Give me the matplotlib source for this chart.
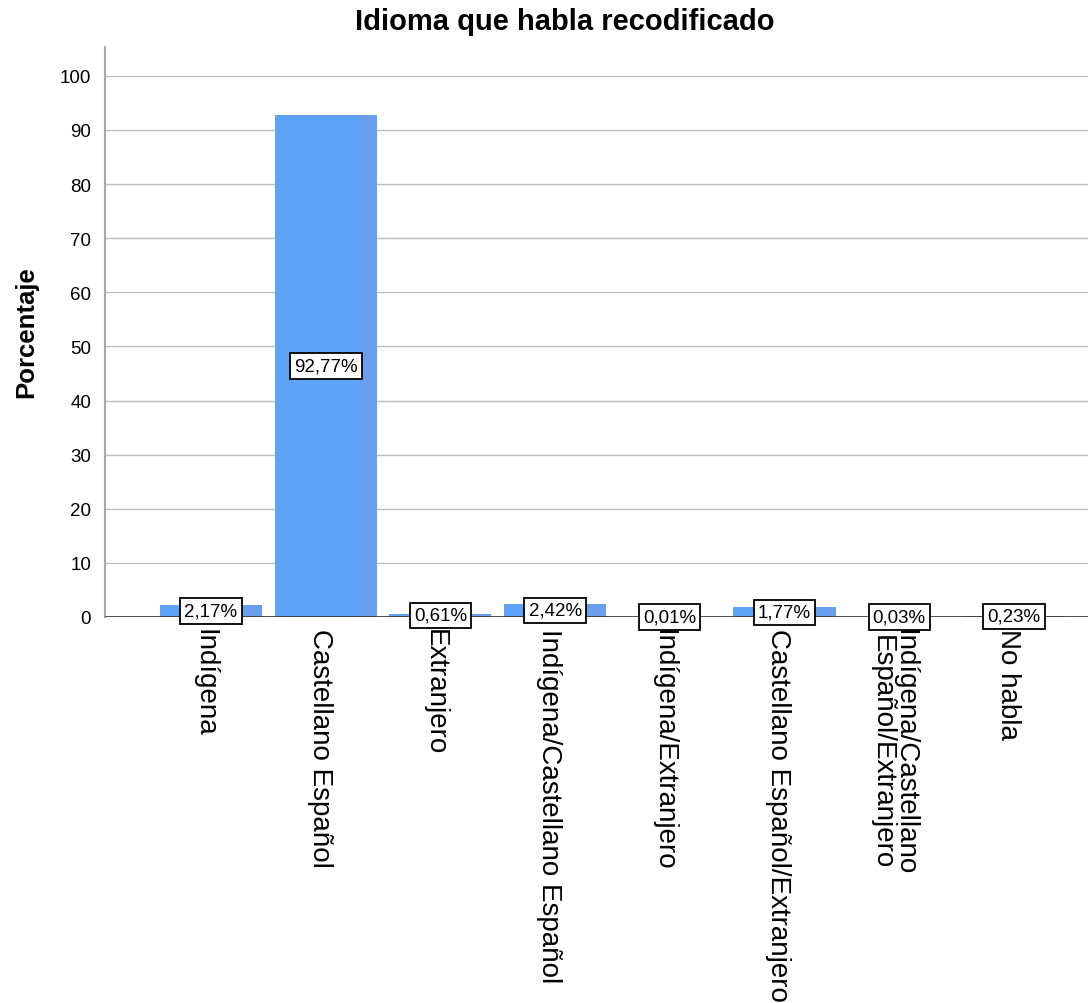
import matplotlib
matplotlib.use("Agg")
import matplotlib.pyplot as plt
import matplotlib.transforms as mtransforms
import numpy as np

plt.rcParams["font.family"] = ["Liberation Sans", "DejaVu Sans"]

CATEGORIES = ["Indígena", "Castellano Español", "Extranjero",
              "Indígena/Castellano Español", "Indígena/Extranjero",
              "Castellano Español/Extranjero",
              "Indígena/Castellano\nEspañol/Extranjero", "No habla"]
PERCENTS = [2.17, 92.77, 0.61, 2.42, 0.01, 1.77, 0.03, 0.23]
YTICKS = [0, 10, 20, 30, 40, 50, 60, 70, 80, 90, 100]
TITLE = "Idioma que habla recodificado"
YLABEL = "Porcentaje"

BAR_COLOR = "#5ea3f8"
EDGE_COLOR = "#6a9ff0"

fig = plt.figure(figsize=(10.88, 10.04), dpi=100)
ax = fig.add_axes([0.0965, 0.3845, 0.9035, 0.5675])

x = np.arange(len(CATEGORIES))
w = 0.89
sw = 0.15
ax.bar(x, PERCENTS, w, color=BAR_COLOR, zorder=2)
# slight shaded strip on the right of each bar
ax.bar(x + w / 2 - sw / 2, PERCENTS, sw, color=EDGE_COLOR, zorder=2)

for xi, v in zip(x, PERCENTS):
    lbl = f"{v:.2f}%".replace(".", ",")
    ax.text(xi, v / 2, lbl, ha="center", va="center", fontsize=13.5, zorder=5,
            clip_on=False,
            bbox=dict(boxstyle="square,pad=0.22", fc="white", ec="black", lw=1.3))

ax.set_xlim(-0.924, 7.646)
ax.set_ylim(0, 105.3)
ax.set_yticks(YTICKS)
ax.tick_params(axis="y", length=0, labelsize=13.5, pad=10)
ax.tick_params(axis="x", length=0, pad=8)
ax.set_xticks(x)
ax.set_xticklabels(CATEGORIES, rotation=-90, fontsize=20, va="top",
                   ha="center", linespacing=0.8)
shift = mtransforms.ScaledTranslation(-6 / 100, 0, fig.dpi_scale_trans)
for t in ax.get_xticklabels():
    t.set_transform(t.get_transform() + shift)

ax.yaxis.grid(True, color="#bdbdbd", lw=1.0, zorder=0)
ax.axhline(0, color="#333333", lw=1.2, zorder=3)

for s in ["top", "right", "bottom"]:
    ax.spines[s].set_visible(False)
ax.spines["left"].set_color("#a8a8a8")
ax.spines["left"].set_linewidth(1.5)

fig.text(0.024, 0.669, YLABEL, rotation=90, ha="center", va="center",
         fontsize=18.5, fontweight="bold")
fig.text(0.519, 0.978, TITLE, ha="center", va="center", fontsize=21,
         fontweight="bold")

fig.savefig("out.png", dpi=100)
